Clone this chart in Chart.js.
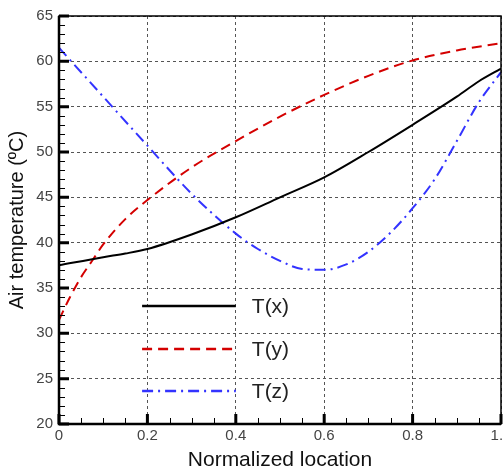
<!DOCTYPE html>
<html>
<head>
<meta charset="utf-8">
<script src="https://cdn.jsdelivr.net/npm/chart.js@4/dist/chart.umd.min.js"></script>
<style>
  body { margin: 0; background: #fff; }
</style>
</head>
<body>
<canvas id="tempChart" width="503" height="476"></canvas>
<script>
// values
const txLoc = [0, 0.1, 0.15, 0.2, 0.3, 0.4, 0.5, 0.6, 0.7, 0.8, 0.9, 0.95, 1];
const txTemp = [37.5, 38.4, 38.8, 39.3, 40.9, 42.8, 45.0, 47.2, 50.0, 53.0, 56.1, 57.8, 59.2];

const tyLoc = [0, 0.025, 0.05, 0.075, 0.1, 0.15, 0.2, 0.3, 0.4, 0.5, 0.6, 0.7, 0.8, 0.9, 1];
const tyTemp = [31.5, 34.0, 36.2, 38.0, 39.8, 42.6, 44.7, 48.3, 51.2, 53.9, 56.3, 58.4, 60.1, 61.2, 62.0];

const tzLoc = [0, 0.1, 0.2, 0.3, 0.4, 0.45, 0.5, 0.55, 0.6, 0.65, 0.7, 0.75, 0.8, 0.85, 0.9, 0.95, 1];
const tzTemp = [61.5, 56.1, 50.7, 45.4, 41.0, 39.3, 38.0, 37.1, 37.0, 37.6, 39.0, 41.1, 43.8, 47.0, 51.2, 55.5, 58.8];

const seriesLabels = ['T(x)', 'T(y)', 'T(z)'];

function toPoints(xs, ys) {
    return xs.map((x, i) => ({ x: x, y: ys[i] }));
}

// frame, inward tick marks and the in-plot legend
const framePlugin = {
    id: 'frame',
    afterDatasetsDraw(chart) {
        const ctx = chart.ctx;
        const a = chart.chartArea;
        const xs = chart.scales.x;
        const ys = chart.scales.y;
        ctx.save();
        ctx.strokeStyle = '#000';

        // minor ticks
        ctx.lineWidth = 1;
        ctx.beginPath();
        for (let v = 20; v <= 65; v += 1) {
            const py = Math.round(ys.getPixelForValue(v)) + 0.5;
            ctx.moveTo(a.left, py);
            ctx.lineTo(a.left + 6, py);
        }
        for (let v = 0; v <= 1.0001; v += 0.05) {
            const px = Math.round(xs.getPixelForValue(v)) + 0.5;
            ctx.moveTo(px, a.bottom);
            ctx.lineTo(px, a.bottom - 6);
        }
        ctx.stroke();

        // major ticks
        ctx.lineWidth = 3;
        ctx.beginPath();
        for (let v = 20; v <= 65; v += 5) {
            const py = ys.getPixelForValue(v);
            ctx.moveTo(a.left, py);
            ctx.lineTo(a.left + 10, py);
        }
        for (let i = 0; i <= 5; i++) {
            const px = xs.getPixelForValue(i * 0.2);
            ctx.moveTo(px, a.bottom);
            ctx.lineTo(px, a.bottom - 10);
        }
        ctx.stroke();

        // frame
        ctx.lineWidth = 1.5;
        ctx.strokeRect(a.left, a.top, a.right - a.left, a.bottom - a.top);
        ctx.lineWidth = 2.5;
        ctx.beginPath();
        ctx.moveTo(a.left, a.top);
        ctx.lineTo(a.left, a.bottom);
        ctx.lineTo(a.right, a.bottom);
        ctx.stroke();

        // legend
        const w = a.right - a.left;
        const h = a.bottom - a.top;
        const x0 = a.left + 0.188 * w;
        const x1 = a.left + 0.4 * w;
        const rows = [0.711, 0.816, 0.919];
        ctx.font = '21px "Liberation Sans", Arial, sans-serif';
        ctx.textBaseline = 'middle';
        ctx.fillStyle = '#222';
        chart.data.datasets.forEach((ds, i) => {
            const y = a.top + rows[i] * h;
            ctx.strokeStyle = ds.borderColor;
            ctx.lineWidth = ds.borderWidth + 0.5;
            ctx.setLineDash(ds.borderDash || []);
            ctx.beginPath();
            ctx.moveTo(x0, y);
            ctx.lineTo(x1, y);
            ctx.stroke();
            ctx.setLineDash([]);
            ctx.fillText(ds.label, x1 + 16, y + 1);
        });
        ctx.restore();
    }
};

const tickFont = { family: '"Liberation Sans", Arial, sans-serif', size: 15 };

new Chart(document.getElementById('tempChart'), {
    type: 'line',
    data: {
        datasets: [
            {
                label: seriesLabels[0],
                data: toPoints(txLoc, txTemp),
                borderColor: '#000000',
                borderWidth: 2,
                pointRadius: 0,
                cubicInterpolationMode: 'monotone'
            },
            {
                label: seriesLabels[1],
                data: toPoints(tyLoc, tyTemp),
                borderColor: '#d40000',
                borderWidth: 2,
                borderDash: [10, 6],
                pointRadius: 0,
                cubicInterpolationMode: 'monotone'
            },
            {
                label: seriesLabels[2],
                data: toPoints(tzLoc, tzTemp),
                borderColor: '#3333ff',
                borderWidth: 2,
                borderDash: [11, 5, 2, 5],
                pointRadius: 0,
                cubicInterpolationMode: 'monotone'
            }
        ]
    },
    options: {
        responsive: false,
        animation: false,
        layout: { padding: { top: 16, right: 2, left: 0, bottom: 0 } },
        plugins: {
            legend: { display: false },
            tooltip: { enabled: false }
        },
        scales: {
            x: {
                type: 'linear',
                min: 0,
                max: 1,
                ticks: { stepSize: 0.2, color: '#444', font: tickFont, padding: 3 },
                grid: { color: '#555', lineWidth: 1, drawTicks: false },
                border: { display: false, dash: [3, 3] },
                title: {
                    display: true, text: 'Normalized location', color: '#111',
                    font: { family: '"Liberation Sans", Arial, sans-serif', size: 21 },
                    padding: { top: 0, bottom: 3 }
                },
                afterFit(scale) {
                    scale.height = 52;
                    scale.paddingLeft = 0;
                    scale.paddingRight = 0;
                }
            },
            y: {
                min: 20,
                max: 65,
                ticks: { stepSize: 5, color: '#444', font: tickFont, padding: 6 },
                grid: { color: '#555', lineWidth: 1, drawTicks: false },
                border: { display: false, dash: [3, 3] },
                title: {
                    display: true, text: 'Air temperature (ºC)', color: '#111',
                    font: { family: '"Liberation Sans", Arial, sans-serif', size: 20 },
                    padding: { top: 5, bottom: 0 }
                },
                afterFit(scale) {
                    scale.width = 59;
                }
            }
        }
    },
    plugins: [framePlugin]
});
</script>
</body>
</html>
